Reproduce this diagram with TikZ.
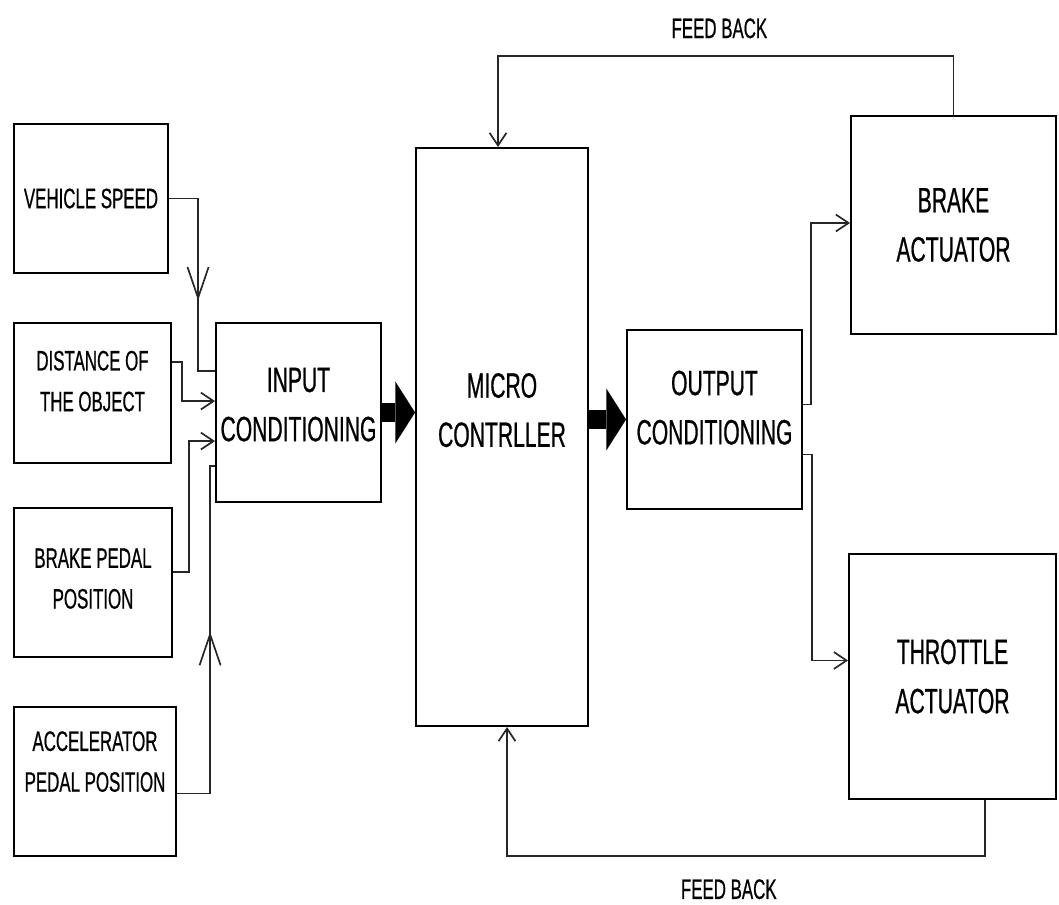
\documentclass[tikz,border=0pt]{standalone}
\usepackage{fontspec}
\newfontfamily\diagfont[FakeStretch=0.6,FakeBold=0.6]{Liberation Sans}
\usetikzlibrary{arrows.meta,calc,decorations.markings}

\begin{document}
\begin{tikzpicture}[x=0.025cm, y=-0.025cm,
  box/.style={draw, line width=1.3pt, align=center, inner sep=0pt},
  inbox/.style={box, font=\diagfont\fontsize{20}{29}\selectfont},
  bigbox/.style={box, font=\diagfont\fontsize{25}{35}\selectfont},
  wire/.style={draw=black!85, line width=1.2pt},
  link/.style={wire, -{Straight Barb[length=9pt,width=12pt]}},
  midarrow/.style={postaction={decorate, decoration={markings, mark=at position #1 with {\arrow{Straight Barb[length=22pt,width=15pt]}}}}},
  bigarrow/.style={line width=14pt, -{Triangle[length=14pt,width=44pt,line width=0pt]}},
  fb/.style={font=\diagfont\fontsize{20}{24}\selectfont, inner sep=0pt}
]
  \useasboundingbox (0,0) rectangle (1059,905);

  % Sensors
  \node[inbox, minimum width=3.85cm, minimum height=3.725cm] (speed) at (91,198.5) {VEHICLE SPEED};
  \node[inbox, minimum width=3.925cm, minimum height=3.5cm, text depth=0.6cm] (distance) at (92.5,393) {DISTANCE OF\\THE OBJECT};
  \node[inbox, minimum width=3.95cm, minimum height=3.725cm, text depth=0.2cm] (pedal) at (93,582.5) {BRAKE PEDAL\\POSITION};
  \node[inbox, minimum width=4.05cm, minimum height=3.725cm, text depth=1cm] (accel) at (95,781.5) {ACCELERATOR\\PEDAL POSITION};

  % Blocks
  \node[bigbox, minimum width=4.125cm, minimum height=4.475cm, text depth=0.4cm] (input) at (298.5,412.5) {INPUT\\CONDITIONING};
  \node[bigbox, minimum width=4.3cm, minimum height=14.45cm, text depth=1.35cm] (micro) at (502,437) {MICRO\\CONTRLLER};
  \node[bigbox, minimum width=4.375cm, minimum height=4.475cm, text depth=0.6cm] (output) at (714.5,419.5) {OUTPUT\\CONDITIONING};
  \node[bigbox, minimum width=5.125cm, minimum height=5.45cm] (brakeact) at (953.5,225) {BRAKE\\ACTUATOR};
  \node[bigbox, minimum width=5.175cm, minimum height=6.125cm] (throttle) at (952.5,676.5) {THROTTLE\\ACTUATOR};

  % Inputs
  \draw[wire, midarrow=0.6] (speed.east) -| ($(input.north west)+(-17,49)$) -- ($(input.north west)+(0,49)$);
  \draw[link] ($(distance.north east)+(0,40)$) -| ($(input.north west)+(-33,79)$) -- ($(input.north west)+(0,79)$);
  \draw[link] ($(pedal.east)+(0,-10.5)$) -| ($(input.north west)+(-26,119)$) -- ($(input.north west)+(0,119)$);
  \draw[wire, midarrow=0.533] ($(accel.east)+(0,12)$) -| ($(input.north west)+(-5,144)$) -- ($(input.north west)+(0,144)$);

  % Main flow
  \draw[bigarrow] (input.east) -- (input.east -| micro.west);
  \draw[bigarrow] (micro.east |- output.west) -- (output.west);

  % Outputs
  \draw[link] ($(output.east)+(0,-15)$) -| ($(brakeact.west)+(-39,-2)$) -- ($(brakeact.west)+(0,-2)$);
  \draw[link] ($(output.east)+(0,35)$) -| ($(throttle.west)+(-36,-16)$) -- ($(throttle.west)+(0,-16)$);

  % Feedback
  \draw[link] (brakeact.north) -- ++(0,-59) -| node[fb, pos=0.257, above=12pt] (fbtop) {FEED BACK} ($(micro.north)+(-4,0)$);
  \draw[link] ($(throttle.south)+(32.5,0)$) -- ++(0,56) -| node[fb, pos=0.268, below=16pt] (fbbottom) {FEED BACK} ($(micro.south)+(5,0)$);
\end{tikzpicture}
\end{document}
